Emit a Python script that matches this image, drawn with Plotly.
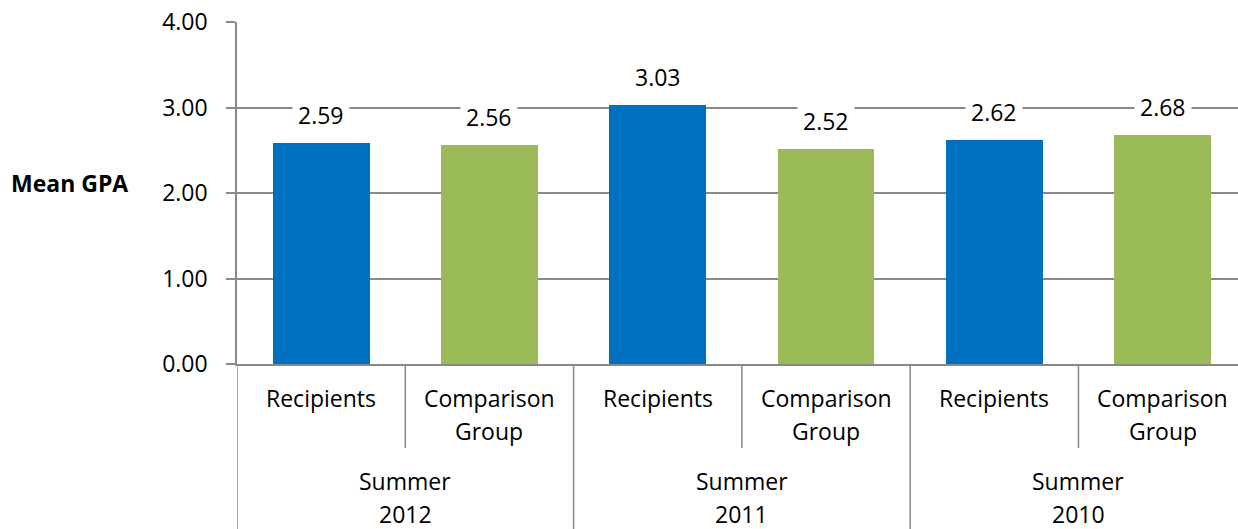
import plotly.graph_objects as go

groups = ["Summer<br>2012", "Summer<br>2011", "Summer<br>2010"]
subgroups = ["Recipients", "Comparison<br>Group"]
values = [2.59, 2.56, 3.03, 2.52, 2.62, 2.68]
colors_by_sub = ["#0070C0", "#9BBB59"]
y_ticks = [0, 1, 2, 3, 4]
y_tick_labels = ["0.00", "1.00", "2.00", "3.00", "4.00"]
y_title = "Mean GPA"

FONT = "Open Sans"
GRID = "#898989"

xs = list(range(len(values)))
bar_colors = [colors_by_sub[i % 2] for i in xs]

fig = go.Figure()
fig.add_trace(go.Bar(x=xs, y=values, marker=dict(color=bar_colors, line=dict(width=0)),
                     width=0.575, hoverinfo="skip"))

annotations = []
# data labels
for x, v in zip(xs, values):
    annotations.append(dict(x=x, y=v, xref="x", yref="y", text=f"{v:.2f}",
                            showarrow=False, yanchor="middle", yshift=28,
                            bgcolor="white", borderpad=5,
                            font=dict(family=FONT, size=23, color="black")))
# subgroup labels
for x in xs:
    lines = subgroups[x % 2].split("<br>")
    for k, ln in enumerate(lines):
        annotations.append(dict(x=x, y=0, xref="x", yref="paper", text=ln,
                                showarrow=False, yanchor="middle", yshift=-34 - 33 * k,
                                font=dict(family=FONT, size=23, color="black")))
# group labels
for g, name in enumerate(groups):
    for k, ln in enumerate(name.split("<br>")):
        annotations.append(dict(x=2 * g + 0.5, y=0, xref="x", yref="paper", text=ln,
                                showarrow=False, yanchor="middle", yshift=-117 - 33 * k,
                                font=dict(family=FONT, size=23, color="black")))
# y title
annotations.append(dict(x=0, y=2.12, xref="paper", yref="y", text=f"<b>{y_title}</b>",
                        showarrow=False, xanchor="center", yanchor="middle", xshift=-168,
                        font=dict(family=FONT, size=23, color="black")))

shapes = []
bottom = -165 / 342
# left axis extension down through label area
shapes.append(dict(type="line", xref="x", yref="paper", x0=-0.5, x1=-0.5, y0=0, y1=bottom,
                   line=dict(color=GRID, width=1.5)))
for x in [0.5, 2.5, 4.5]:
    shapes.append(dict(type="line", xref="x", yref="paper", x0=x, x1=x, y0=0, y1=-84 / 342,
                       line=dict(color=GRID, width=1.5)))
for x in [1.5, 3.5]:
    shapes.append(dict(type="line", xref="x", yref="paper", x0=x, x1=x, y0=0, y1=bottom,
                       line=dict(color=GRID, width=1.5)))

fig.update_layout(
    width=1238, height=529,
    margin=dict(l=237, r=0, t=22, b=165),
    paper_bgcolor="white", plot_bgcolor="white",
    showlegend=False,
    font=dict(family=FONT, size=23, color="black"),
    annotations=annotations,
    shapes=shapes,
    bargap=0,
    xaxis=dict(range=[-0.5, 5.448], showticklabels=False, showgrid=False, zeroline=False,
               showline=True, linecolor=GRID, linewidth=1.5, ticks="", fixedrange=True),
    yaxis=dict(range=[0, 4], tickvals=y_ticks, ticktext=y_tick_labels, showgrid=True,
               gridcolor=GRID, gridwidth=1.5, zeroline=False, showline=True, linecolor=GRID,
               linewidth=1.5, ticks="outside", ticklen=9, tickcolor=GRID, tickwidth=1.5,
               ticklabelstandoff=14, tickfont=dict(family=FONT, size=23, color="black"),
               fixedrange=True),
)

fig.write_html("out.html")
